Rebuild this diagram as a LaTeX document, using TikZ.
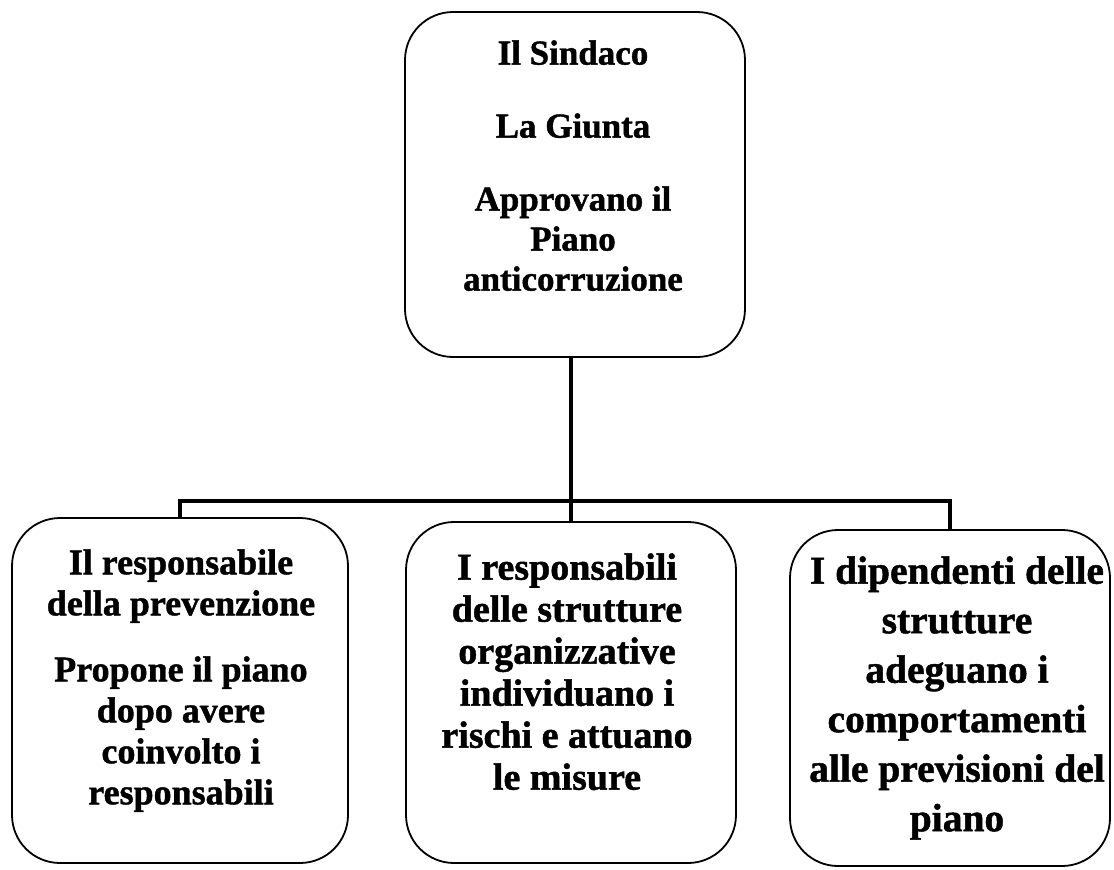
\documentclass[tikz,border=0pt]{standalone}
\usepackage{fontspec}
\setmainfont{Liberation Serif}[BoldFeatures = {FakeBold = 1.2}]
\usepackage{tikz}
\usetikzlibrary{positioning}
\tikzstyle{orgChart} = [x = 1pt, y = -1pt]
\tikzstyle{boxStyle} = [draw = black, line width = 1.8pt, rounded corners = 48pt]
\tikzstyle{boxText} = [align = center, inner sep = 0pt, anchor = north]
\tikzstyle{connectorLine} = [draw = black, line width = 4.2pt]
\newcommand{\orgBox}[5]{\node [boxStyle, minimum width = #4, minimum height = #5] (#1) at (#2, #3) {};}
\newcommand{\orgText}[5]{\node [boxText, font = \bfseries\fontsize{#3}{#4}\selectfont] (#1Text) at ([shift = {(#2)}] #1.north) {#5};}

\begin{document}
\begin{tikzpicture}[orgChart]
        \useasboundingbox (0,0) rectangle (1114,870);
        \orgBox{sindaco}{575}{184.5}{340}{345}
        \orgBox{responsabile}{180}{690.5}{336}{345}
        \orgBox{strutture}{571}{692.5}{330}{341}
        \orgBox{dipendenti}{950}{698}{320}{336}

        \orgText{sindaco}{-2,29}{35}{40}{Il Sindaco\\[33pt]La Giunta\\[33pt]Approvano il\\Piano\\anticorruzione}
        \orgText{responsabile}{1,32}{36}{41}{Il responsabile\\della prevenzione\\[25pt]Propone il piano\\dopo avere\\coinvolto i\\responsabili}
        \orgText{strutture}{-4,32}{38}{42}{I responsabili\\delle strutture\\organizzative\\individuano i\\rischi e attuano\\le misure}
        \orgText{dipendenti}{7,27}{39.5}{49.5}{I dipendenti delle\\strutture\\adeguano i\\comportamenti\\alle previsioni del\\piano}

        % collegamenti
        \coordinate (bus) at (571,501);
        \draw [connectorLine] (strutture.north |- sindaco.south) -- (strutture.north);
        \draw [connectorLine] (responsabile.north) |- (bus) -| (dipendenti.north);
\end{tikzpicture}
\end{document}
